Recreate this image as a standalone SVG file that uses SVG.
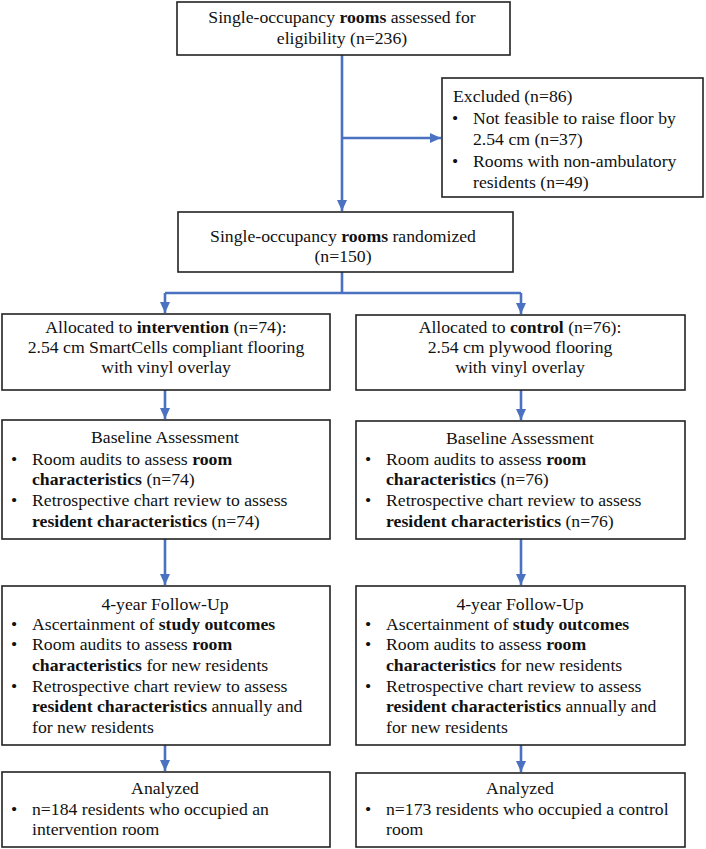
<svg xmlns="http://www.w3.org/2000/svg" width="706" height="849" viewBox="0 0 706 849">
<style>
.box{fill:#fff;stroke:#222;stroke-width:1.6}
text{font-family:"Liberation Serif","Times New Roman",serif;font-size:17.7px;fill:#111}
.c{text-anchor:middle}
.b{font-weight:bold}
.con{fill:none;stroke:#4a72c0;stroke-width:2.6}
</style>
<defs>
<marker id="ah" markerUnits="userSpaceOnUse" markerWidth="12" markerHeight="12" viewBox="0 0 12 12" refX="11" refY="6" orient="auto">
<path d="M0,1 L11,6 L0,11 Z" fill="#4a72c0"/>
</marker>
</defs>
<g id="connectors">
<path class="con" d="M342,55 V211" marker-end="url(#ah)"/>
<path class="con" d="M342,138 H441" marker-end="url(#ah)"/>
<path class="con" d="M342,272 V293 M165,293 H521"/>
<path class="con" d="M165,293 V313" marker-end="url(#ah)"/>
<path class="con" d="M521,293 V314" marker-end="url(#ah)"/>
<path class="con" d="M165,390 V419" marker-end="url(#ah)"/>
<path class="con" d="M521,390 V420" marker-end="url(#ah)"/>
<path class="con" d="M165,539 V585" marker-end="url(#ah)"/>
<path class="con" d="M521,539 V585" marker-end="url(#ah)"/>
<path class="con" d="M165,745 V771" marker-end="url(#ah)"/>
<path class="con" d="M521,745 V772" marker-end="url(#ah)"/>
</g>
<g id="assessed">
<rect class="box" x="177" y="2" width="333" height="53"/>
<text class="c" x="342" y="23">Single-occupancy <tspan class="b">rooms</tspan> assessed for</text>
<text class="c" x="342" y="44">eligibility (n=236)</text>
</g>
<g id="excluded">
<rect class="box" x="442" y="78" width="261" height="119"/>
<text x="453" y="102">Excluded (n=86)</text>
<text class="c" x="455" y="124">•</text>
<text x="473" y="124">Not feasible to raise floor by</text>
<text x="473" y="145">2.54 cm (n=37)</text>
<text class="c" x="455" y="167">•</text>
<text x="473" y="167">Rooms with non-ambulatory</text>
<text x="473" y="188">residents (n=49)</text>
</g>
<g id="randomized">
<rect class="box" x="178" y="212" width="335" height="60"/>
<text class="c" x="343" y="242">Single-occupancy <tspan class="b">rooms</tspan> randomized</text>
<text class="c" x="343" y="262">(n=150)</text>
</g>
<g id="alloc-int">
<rect class="box" x="2" y="314" width="328" height="76"/>
<text class="c" x="166" y="333">Allocated to <tspan class="b">intervention</tspan> (n=74):</text>
<text class="c" x="166" y="353">2.54 cm SmartCells compliant flooring</text>
<text class="c" x="166" y="373">with vinyl overlay</text>
</g>
<g id="alloc-ctl">
<rect class="box" x="356" y="315" width="329" height="75"/>
<text class="c" x="520" y="333">Allocated to <tspan class="b">control</tspan> (n=76):</text>
<text class="c" x="520" y="353">2.54 cm plywood flooring</text>
<text class="c" x="520" y="373">with vinyl overlay</text>
</g>
<g id="base-int">
<rect class="box" x="2" y="420" width="328" height="119"/>
<text class="c" x="165" y="443">Baseline Assessment</text>
<text class="c" x="14" y="465">•</text>
<text x="32" y="465">Room audits to assess <tspan class="b">room</tspan></text>
<text x="32" y="485"><tspan class="b">characteristics</tspan> (n=74)</text>
<text class="c" x="14" y="506">•</text>
<text x="32" y="506">Retrospective chart review to assess</text>
<text x="32" y="527"><tspan class="b">resident characteristics</tspan> (n=74)</text>
</g>
<g id="base-ctl">
<rect class="box" x="356" y="421" width="329" height="118"/>
<text class="c" x="520" y="444">Baseline Assessment</text>
<text class="c" x="368" y="465">•</text>
<text x="386" y="465">Room audits to assess <tspan class="b">room</tspan></text>
<text x="386" y="485"><tspan class="b">characteristics</tspan> (n=76)</text>
<text class="c" x="368" y="506">•</text>
<text x="386" y="506">Retrospective chart review to assess</text>
<text x="386" y="527"><tspan class="b">resident characteristics</tspan> (n=76)</text>
</g>
<g id="fu-int">
<rect class="box" x="2" y="586" width="328" height="159"/>
<text class="c" x="165" y="610">4-year Follow-Up</text>
<text class="c" x="14" y="630">•</text>
<text x="32" y="630">Ascertainment of <tspan class="b">study outcomes</tspan></text>
<text class="c" x="14" y="650">•</text>
<text x="32" y="650">Room audits to assess <tspan class="b">room</tspan></text>
<text x="32" y="671"><tspan class="b">characteristics</tspan> for new residents</text>
<text class="c" x="14" y="692">•</text>
<text x="32" y="692">Retrospective chart review to assess</text>
<text x="32" y="712"><tspan class="b">resident characteristics</tspan> annually and</text>
<text x="32" y="733">for new residents</text>
</g>
<g id="fu-ctl">
<rect class="box" x="356" y="586" width="329" height="159"/>
<text class="c" x="520" y="610">4-year Follow-Up</text>
<text class="c" x="368" y="630">•</text>
<text x="386" y="630">Ascertainment of <tspan class="b">study outcomes</tspan></text>
<text class="c" x="368" y="650">•</text>
<text x="386" y="650">Room audits to assess <tspan class="b">room</tspan></text>
<text x="386" y="671"><tspan class="b">characteristics</tspan> for new residents</text>
<text class="c" x="368" y="692">•</text>
<text x="386" y="692">Retrospective chart review to assess</text>
<text x="386" y="712"><tspan class="b">resident characteristics</tspan> annually and</text>
<text x="386" y="733">for new residents</text>
</g>
<g id="an-int">
<rect class="box" x="2" y="772" width="328" height="75"/>
<text class="c" x="165" y="794">Analyzed</text>
<text class="c" x="14" y="815">•</text>
<text x="32" y="815">n=184 residents who occupied an</text>
<text x="32" y="835">intervention room</text>
</g>
<g id="an-ctl">
<rect class="box" x="356" y="773" width="329" height="74"/>
<text class="c" x="520" y="794">Analyzed</text>
<text class="c" x="368" y="815">•</text>
<text x="386" y="815">n=173 residents who occupied a control</text>
<text x="386" y="835">room</text>
</g>
</svg>
